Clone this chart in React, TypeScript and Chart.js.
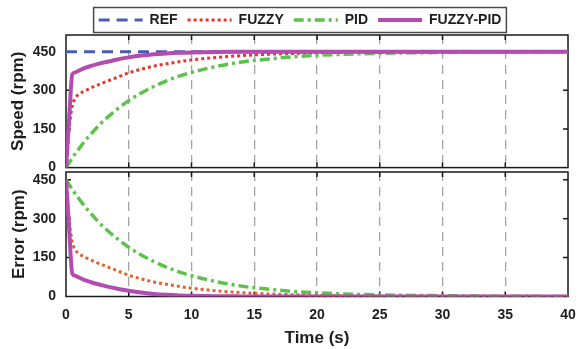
import React, { useEffect, useRef } from 'react';
import { Chart, registerables } from 'chart.js';

Chart.register(...registerables);

// ---- Data ----
const TIME = [0, 0.1, 0.25, 0.5, 0.75, 1, 1.5, 2, 2.5, 3, 4, 5, 6, 7, 8, 9, 10, 12, 14, 16, 18, 20, 22, 25, 28, 30, 35, 40];
const REF_TIME = [0, 40];
const REF_SPEED = [450, 450];
const FUZZY_SPEED = [0, 50, 150, 240, 270, 284, 298, 310, 320, 330, 349, 368, 382, 394, 403, 411, 418, 428, 435, 440, 443, 445.5, 447, 448.5, 449.2, 449.5, 450, 450];
const PID_SPEED = [0, 8, 19, 37, 55, 71, 103, 131, 158, 182, 224, 260, 290, 315, 337, 355, 370, 393, 410, 421, 430, 436, 440, 444, 446, 447, 449, 450];
const FUZZY_PID_SPEED = [0, 75, 190, 362, 370, 376, 387, 395, 402, 408, 419, 428, 435, 440, 443.5, 446, 447.5, 449, 449.6, 450, 450, 450, 450, 450, 450, 450, 450, 450];
const REF_VALUE = 450;

const X_TICKS = [0, 5, 10, 15, 20, 25, 30, 35, 40];
const Y_TICKS = [0, 150, 300, 450];
const SERIES_LABELS = ['REF', 'FUZZY', 'PID', 'FUZZY-PID'];

const FONT = "'Liberation Sans', Arial, Helvetica, sans-serif";
const TEXT = '#1e1e1e';

const STYLE: Record<string, any> = {
  'REF': { borderColor: '#4a5cb0', borderWidth: 3, borderDash: [11, 7], order: 4 },
  'FUZZY': { borderColor: '#e8352b', borderWidth: 3, borderDash: [3, 3], order: 3 },
  'PID': { borderColor: '#5cc24a', borderWidth: 3.5, borderDash: [10, 4, 3, 4], order: 2 },
  'FUZZY-PID': { borderColor: '#b34bb1', borderWidth: 4, borderDash: [], order: 1 },
};

function ds(label: string, xs: number[], ys: number[], extra: any = {}) {
  return {
    label,
    data: xs.map((x, i) => ({ x, y: ys[i] })),
    ...STYLE[label],
    ...extra,
    pointRadius: 0,
    fill: false,
    cubicInterpolationMode: 'monotone',
  };
}

const framePlugin = {
  id: 'frame',
  beforeDatasetsDraw(chart: any) {
    const { ctx, chartArea: a, scales } = chart;
    ctx.save();
    ctx.strokeStyle = '#1a1a1a';
    ctx.lineWidth = 1.5;
    ctx.beginPath();
    scales.y.ticks.forEach((t: any) => {
      const y = scales.y.getPixelForValue(t.value);
      if (y > a.top + 1 && y < a.bottom - 1) {
        ctx.moveTo(a.left, y); ctx.lineTo(a.left + 5, y);
        ctx.moveTo(a.right, y); ctx.lineTo(a.right - 5, y);
      }
    });
    scales.x.ticks.forEach((t: any) => {
      const x = scales.x.getPixelForValue(t.value);
      if (x > a.left + 1 && x < a.right - 1) {
        ctx.moveTo(x, a.top); ctx.lineTo(x, a.top + 5);
        ctx.moveTo(x, a.bottom); ctx.lineTo(x, a.bottom - 5);
      }
    });
    ctx.stroke();
    ctx.strokeRect(a.left, a.top, a.right - a.left, a.bottom - a.top);
    ctx.restore();
  },
};

const legendBoxPlugin = {
  id: 'legendBox',
  afterDraw(chart: any) {
    const lg = chart.legend;
    if (!lg || !lg.options.display) return;
    const hb = lg.legendHitBoxes;
    if (!hb || !hb.length) return;
    const first = hb[0];
    const last = hb[hb.length - 1];
    const left = first.left - 5;
    const right = last.left + last.width + 5;
    const top = first.top - 5.5;
    const bottom = first.top + first.height + 5.5;
    const ctx = chart.ctx;
    ctx.save();
    ctx.strokeStyle = '#4a4a4a';
    ctx.lineWidth = 1.5;
    ctx.strokeRect(left, top, right - left, bottom - top);
    ctx.restore();
  },
};

function legendLabels(chart: any) {
  const items = (Chart as any).defaults.plugins.legend.labels.generateLabels(chart);
  items.forEach((it: any) => {
    const d = chart.data.datasets[it.datasetIndex];
    it.lineDash = d.borderDash;
    it.lineWidth = d.borderWidth;
    it.strokeStyle = d.borderColor;
    it.fillStyle = d.borderColor;
    it.lineCap = 'butt';
  });
  return items;
}

function makeOptions(cfg: {
  yMax: number; yTitle: string; yWidth: number; yTitlePad: number;
  showX: boolean; padding: any; legend: boolean;
}) {
  const tickFont = { family: FONT, size: 14, weight: 'bold' as const };
  return {
    responsive: false,
    animation: false,
    devicePixelRatio: 1,
    events: [],
    layout: { padding: cfg.padding },
    plugins: {
      tooltip: { enabled: false },
      legend: {
        display: cfg.legend,
        position: 'top',
        maxHeight: 32,
        labels: {
          usePointStyle: true,
          pointStyle: 'line',
          pointStyleWidth: 44,
          padding: 10,
          color: TEXT,
          font: { family: FONT, size: 14, weight: 'bold' },
          generateLabels: legendLabels,
          sort: (a: any, b: any) => a.datasetIndex - b.datasetIndex,
        },
      },
    },
    scales: {
      x: {
        type: 'linear',
        min: 0,
        max: 40,
        afterBuildTicks: (s: any) => { s.ticks = X_TICKS.map((v) => ({ value: v })); },
        ticks: { display: cfg.showX, padding: 2, color: TEXT, font: tickFont },
        grid: {
          color: (c: any) => (c.tick && (c.tick.value === 0 || c.tick.value === 40) ? 'rgba(0,0,0,0)' : '#a3a3a3'),
          lineWidth: 1.3,
          drawTicks: cfg.showX,
          tickLength: 8,
          tickColor: 'rgba(0,0,0,0)',
        },
        border: { display: false, dash: [9, 6] },
        title: {
          display: cfg.showX,
          text: 'Time (s)',
          color: TEXT,
          font: { family: FONT, size: 17, weight: 'bold', lineHeight: 1.1 },
          padding: { top: 4, bottom: 1 },
        },
      },
      y: {
        type: 'linear',
        min: 0,
        max: cfg.yMax,
        afterBuildTicks: (s: any) => { s.ticks = Y_TICKS.map((v) => ({ value: v })); },
        afterFit: (s: any) => { s.width = cfg.yWidth; },
        ticks: { padding: 2, color: TEXT, font: tickFont },
        grid: { color: 'rgba(0,0,0,0)', drawTicks: true, tickLength: 8, tickColor: 'rgba(0,0,0,0)' },
        border: { display: false },
        title: {
          display: true,
          text: cfg.yTitle,
          color: TEXT,
          font: { family: FONT, size: 17, weight: 'bold', lineHeight: 1.2 },
          padding: { top: cfg.yTitlePad, bottom: 0 },
        },
      },
    },
  } as any;
}

export default function App() {
  const topRef = useRef<HTMLCanvasElement>(null);
  const botRef = useRef<HTMLCanvasElement>(null);

  useEffect(() => {
    const err = (arr: number[]) => arr.map((v) => REF_VALUE - v);
    const top = new Chart(topRef.current as HTMLCanvasElement, {
      type: 'line',
      data: {
        datasets: [
          ds(SERIES_LABELS[0], REF_TIME, REF_SPEED),
          ds(SERIES_LABELS[1], TIME, FUZZY_SPEED),
          ds(SERIES_LABELS[2], TIME, PID_SPEED),
          ds(SERIES_LABELS[3], TIME, FUZZY_PID_SPEED),
        ],
      },
      options: makeOptions({
        yMax: 515, yTitle: 'Speed (rpm)', yWidth: 34, yTitlePad: -23.5,
        showX: false, padding: { left: 32, right: 14, top: 3, bottom: 10 }, legend: true,
      }),
      plugins: [framePlugin, legendBoxPlugin],
    } as any);
    const bot = new Chart(botRef.current as HTMLCanvasElement, {
      type: 'line',
      data: {
        datasets: [
          ds(SERIES_LABELS[1], TIME, err(FUZZY_SPEED), { borderColor: '#e2622a' }),
          ds(SERIES_LABELS[2], TIME, err(PID_SPEED)),
          ds(SERIES_LABELS[3], TIME, err(FUZZY_PID_SPEED)),
        ],
      },
      options: makeOptions({
        yMax: 480, yTitle: 'Error (rpm)', yWidth: 66, yTitlePad: 9.5,
        showX: true, padding: { left: 0, right: 14, top: 12, bottom: 0 }, legend: false,
      }),
      plugins: [framePlugin],
    } as any);
    return () => { top.destroy(); bot.destroy(); };
  }, []);

  return (
    <div style={{ position: 'absolute', left: 0, top: 0, width: 582, height: 349, overflow: 'hidden', background: '#ffffff' }}>
      <canvas ref={topRef} width={582} height={178} style={{ position: 'absolute', left: 0, top: 0, width: 582, height: 178 }} />
      <canvas ref={botRef} width={582} height={189} style={{ position: 'absolute', left: 0, top: 160, width: 582, height: 189 }} />
    </div>
  );
}
